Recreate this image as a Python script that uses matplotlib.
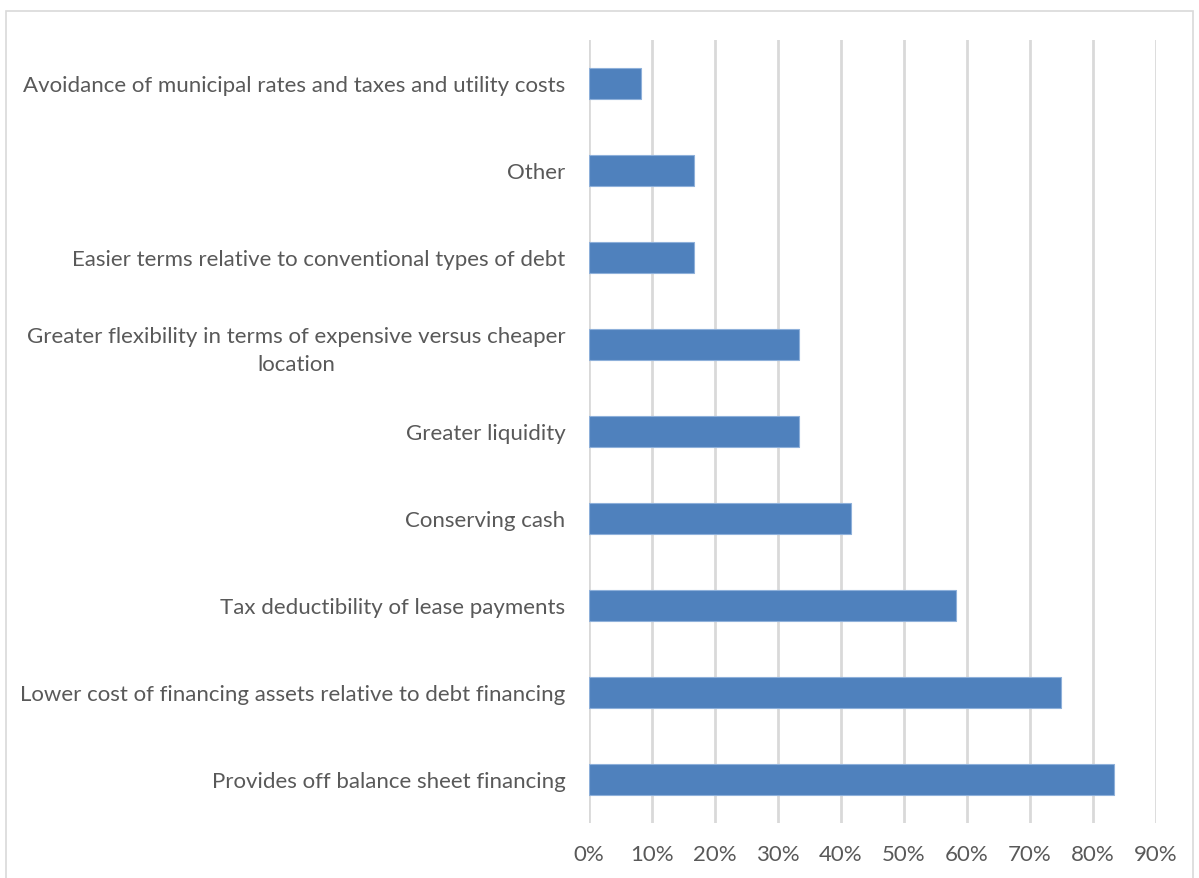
import matplotlib
matplotlib.use("Agg")
import matplotlib.pyplot as plt
from matplotlib.patches import Rectangle
from matplotlib.ticker import PercentFormatter

# Reasons for leasing, bottom to top
reasons = [
    "Provides off balance sheet financing",
    "Lower cost of financing assets relative to debt financing",
    "Tax deductibility of lease payments",
    "Conserving cash",
    "Greater liquidity",
    "Greater flexibility in terms of expensive versus cheaper\nlocation",
    "Easier terms relative to conventional types of debt",
    "Other",
    "Avoidance of municipal rates and taxes and utility costs",
]
shares = [83.33, 75.0, 58.33, 41.67, 33.33, 33.33, 16.67, 16.67, 8.33]
x_ticks = [0, 10, 20, 30, 40, 50, 60, 70, 80, 90]

plt.rcParams["font.family"] = ["Lato", "DejaVu Sans"]
text_color = "#595959"

fig = plt.figure(figsize=(11.99, 8.79), dpi=100)
ax = fig.add_axes([0.4912, 0.0626, 0.4729, 0.8908])

ax.barh(range(len(reasons)), shares, height=0.36, color="#4f81bd",
        edgecolor="#8eb0da", linewidth=0.8, zorder=3)

ax.set_xlim(0, 90)
ax.set_ylim(-0.5, len(reasons) - 0.5)
ax.set_xticks(x_ticks)
ax.xaxis.set_major_formatter(PercentFormatter(decimals=0))
ax.set_yticks(range(len(reasons)))
ax.set_yticklabels(reasons, multialignment="center", linespacing=1.45)

ax.grid(axis="x", color="#d9d9d9", linewidth=2, zorder=0)
for side in ["top", "right", "bottom", "left"]:
    ax.spines[side].set_visible(False)
ax.tick_params(axis="both", length=0, labelsize=16, colors=text_color)
ax.tick_params(axis="y", pad=17)
ax.tick_params(axis="x", pad=15)

# light frame around the whole chart area
fig.patches.append(Rectangle((6 / 1199, -0.01), 1187 / 1199, 1 - 12 / 879 + 0.01,
                             transform=fig.transFigure, fill=False,
                             edgecolor="#d9d9d9", linewidth=1.2))

fig.savefig("out.png", dpi=100)
